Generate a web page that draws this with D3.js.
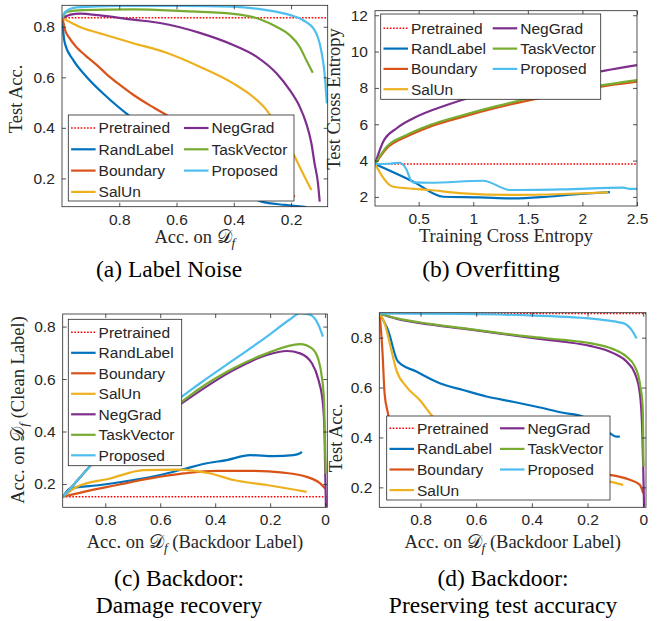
<!DOCTYPE html>
<html>
<head>
<meta charset="utf-8">
<script src="https://cdn.jsdelivr.net/npm/d3@7"></script>
<style>
  body { margin: 0; background: #fff; }
  text { fill: #262626; }
</style>
</head>
<body>
<script>
// ---------- data ----------
const methods = ["RandLabel", "Boundary", "SalUn", "NegGrad", "TaskVector", "Proposed"];
const legendNames = ["Pretrained", "RandLabel", "Boundary", "SalUn", "NegGrad", "TaskVector", "Proposed"];

// (a) Label noise: [acc on Df, test acc]
const aPretrained = 0.836;
const aRandLabel = [[0.998,0.835],[0.995,0.774],[0.99,0.735],[0.961,0.669],[0.92,0.609],[0.844,0.523],[0.769,0.451],[0.66,0.36],[0.55,0.27],[0.45,0.2],[0.37,0.145],[0.303,0.108],[0.22,0.095],[0.146,0.086]];
const aBoundary = [[0.998,0.835],[0.99,0.79],[0.975,0.757],[0.95,0.72],[0.92,0.688],[0.88,0.65],[0.84,0.608],[0.8,0.572],[0.75,0.53],[0.69,0.487],[0.635,0.451],[0.5,0.36],[0.4,0.29],[0.3,0.21],[0.23,0.16],[0.187,0.127]];
const aSalUn = [[0.998,0.835],[0.926,0.794],[0.867,0.774],[0.751,0.735],[0.635,0.697],[0.519,0.642],[0.402,0.576],[0.333,0.523],[0.286,0.471],[0.24,0.39],[0.193,0.299],[0.170,0.246],[0.147,0.194],[0.129,0.154]];
const aNegGrad = [[0.998,0.835],[0.97,0.848],[0.937,0.852],[0.867,0.845],[0.751,0.828],[0.658,0.815],[0.519,0.776],[0.402,0.728],[0.321,0.682],[0.251,0.616],[0.205,0.550],[0.170,0.484],[0.147,0.418],[0.129,0.339],[0.118,0.260],[0.106,0.181],[0.100,0.108]];
const aTaskVector = [[0.998,0.835],[0.984,0.859],[0.926,0.866],[0.751,0.869],[0.577,0.862],[0.402,0.851],[0.309,0.830],[0.251,0.800],[0.205,0.767],[0.170,0.721],[0.147,0.669],[0.124,0.618]];
const aProposed = [[0.998,0.835],[0.990,0.858],[0.949,0.877],[0.809,0.883],[0.577,0.883],[0.402,0.880],[0.286,0.866],[0.205,0.847],[0.159,0.827],[0.118,0.787],[0.095,0.708],[0.083,0.616],[0.075,0.497]];
const aXTicks = [0.8, 0.6, 0.4, 0.2];
const aYTicks = [0.2, 0.4, 0.6, 0.8];

// (b) Overfitting: [training CE, test CE]
const bPretrained = 3.81;
const bRandLabel = [[0.1,3.81],[0.451,2.84],[0.726,2.01],[1.062,1.98],[1.367,1.92],[1.672,2.01],[1.977,2.16],[2.252,2.27]];
const bBoundary = [[0.1,3.81],[0.207,4.67],[0.390,5.32],[0.604,5.87],[0.909,6.42],[1.214,6.91],[1.519,7.33],[1.824,7.70],[2.13,8.03],[2.5,8.34]];
const bSalUn = [[0.1,3.81],[0.268,2.56],[0.604,2.38],[0.909,2.20],[1.367,2.11],[1.824,2.16],[2.236,2.25]];
const bNegGrad = [[0.1,3.81],[0.176,5.05],[0.299,5.78],[0.451,6.33],[0.757,7.06],[1.062,7.61],[1.367,7.98],[1.672,8.34],[1.977,8.71],[2.5,9.26]];
const bTaskVector = [[0.1,3.81],[0.207,4.76],[0.390,5.41],[0.604,5.96],[0.909,6.51],[1.214,7.00],[1.519,7.43],[1.824,7.79],[2.13,8.1],[2.5,8.43]];
const bProposed = [[0.1,3.81],[0.25,3.84],[0.329,3.88],[0.39,3.48],[0.43,2.9],[0.45,2.8],[0.604,2.78],[1.092,2.89],[1.337,2.38],[1.824,2.42],[2.374,2.51],[2.436,2.44],[2.5,2.44]];
const bXTicks = [0.5, 1, 1.5, 2, 2.5];
const bYTicks = [2, 4, 6, 8, 10, 12];

// (c) Backdoor damage recovery: [acc on Df backdoor label, acc on Df clean label]
const cPretrained = 0.151;
const cRandLabel = [[0.954,0.151],[0.927,0.183],[0.818,0.196],[0.697,0.215],[0.6,0.234],[0.503,0.260],[0.430,0.279],[0.358,0.291],[0.273,0.310],[0.188,0.306],[0.115,0.310],[0.091,0.317],[0.085,0.323]];
const cBoundary = [[0.954,0.151],[0.879,0.170],[0.757,0.196],[0.636,0.221],[0.515,0.240],[0.394,0.250],[0.273,0.250],[0.152,0.243],[0.067,0.227],[0.018,0.202],[0.0,0.183]];
const cSalUn = [[0.954,0.151],[0.903,0.189],[0.782,0.221],[0.661,0.253],[0.539,0.255],[0.418,0.240],[0.333,0.215],[0.212,0.196],[0.115,0.179],[0.067,0.170]];
const cNegGrad = [[0.954,0.151],[0.9,0.215],[0.83,0.296],[0.7,0.39],[0.6,0.45],[0.521,0.508],[0.333,0.634],[0.212,0.692],[0.139,0.707],[0.091,0.698],[0.048,0.660],[0.024,0.596],[0.008,0.507],[0.002,0.393],[0.0,0.266],[-0.003,0.113]];
const cTaskVector = [[0.954,0.151],[0.9,0.215],[0.83,0.297],[0.7,0.395],[0.6,0.457],[0.521,0.514],[0.455,0.565],[0.333,0.641],[0.212,0.698],[0.091,0.733],[0.048,0.717],[0.024,0.673],[0.012,0.609],[0.004,0.520],[0.001,0.393],[-0.002,0.240]];
const cProposed = [[0.954,0.151],[0.9,0.215],[0.830,0.298],[0.7,0.41],[0.521,0.533],[0.455,0.584],[0.333,0.673],[0.212,0.762],[0.127,0.828],[0.091,0.851],[0.055,0.845],[0.024,0.806],[0.008,0.762]];
const cXTicks = [0.8, 0.6, 0.4, 0.2, 0];
const cYTicks = [0.2, 0.4, 0.6, 0.8];

// (d) Backdoor preserving test acc: [acc on Df backdoor label, test acc]
const dPretrained = 0.897;
const dRandLabel = [[0.947,0.897],[0.917,0.831],[0.881,0.704],[0.815,0.664],[0.731,0.617],[0.647,0.590],[0.563,0.564],[0.468,0.543],[0.383,0.523],[0.288,0.499],[0.216,0.483],[0.17,0.45],[0.120,0.417],[0.096,0.403],[0.084,0.403]];
const dBoundary = [[0.947,0.897],[0.937,0.751],[0.929,0.577],[0.917,0.497],[0.9,0.4],[0.85,0.33],[0.7,0.29],[0.5,0.275],[0.3,0.265],[0.120,0.250],[0.048,0.230],[0.012,0.210],[0.0,0.176]];
const dSalUn = [[0.947,0.897],[0.929,0.858],[0.905,0.751],[0.887,0.671],[0.851,0.604],[0.803,0.550],[0.761,0.490],[0.65,0.38],[0.5,0.3],[0.3,0.25],[0.120,0.223],[0.072,0.210]];
const dNegGrad = [[0.947,0.897],[0.887,0.876],[0.767,0.853],[0.647,0.836],[0.527,0.818],[0.408,0.800],[0.288,0.784],[0.192,0.767],[0.108,0.738],[0.060,0.704],[0.030,0.657],[0.012,0.577],[0.004,0.443],[0.0,0.283],[-0.003,0.122]];
const dTaskVector = [[0.947,0.897],[0.887,0.878],[0.767,0.855],[0.647,0.838],[0.527,0.820],[0.408,0.804],[0.288,0.791],[0.192,0.778],[0.108,0.754],[0.060,0.724],[0.030,0.684],[0.012,0.617],[0.002,0.523],[-0.001,0.283]];
const dProposed = [[0.947,0.897],[0.647,0.895],[0.408,0.889],[0.168,0.874],[0.072,0.858],[0.042,0.831],[0.024,0.797]];
const dXTicks = [0.8, 0.6, 0.4, 0.2, 0];
const dYTicks = [0.2, 0.4, 0.6, 0.8];

// ---------- styles ----------
const colors = {
  Pretrained: "#ff0000", RandLabel: "#0072bd", Boundary: "#d95319", SalUn: "#edb120",
  NegGrad: "#7e2f8e", TaskVector: "#77ac30", Proposed: "#4dbeee"
};
const sansFont = "'Liberation Sans', Arial, Helvetica, sans-serif";
const serifFont = "'Liberation Serif', 'Times New Roman', serif";

const width = 665, height = 621;
const svg = d3.select("body").append("svg")
  .attr("width", width).attr("height", height);

const dfLabel = ["Acc. on ", "𝒟", "_f"];

const panels = [
  {
    id: "a", pretrained: aPretrained, xTicks: aXTicks, yTicks: aYTicks,
    series: {RandLabel: aRandLabel, Boundary: aBoundary, SalUn: aSalUn, NegGrad: aNegGrad, TaskVector: aTaskVector, Proposed: aProposed},
    xDomain: [1.0, 0.072], yDomain: [0.088, 0.885],
    box: {l: 62, r: 327.7, t: 5.3, b: 206.7},
    xLabel: dfLabel, xLabelY: 243, yLabel: ["Test Acc."], yLabelX: 22, yLabelC: 99,
    legend: {x: 68.3, y: 115, w: 225.7, h: 86, row0: 13, rowH: 21.3, col2: 115.7, rows: 4},
    caption: ["(a) Label Noise"], capX: 169, capY: 277
  },
  {
    id: "b", pretrained: bPretrained, xTicks: bXTicks, yTicks: bYTicks,
    series: {RandLabel: bRandLabel, Boundary: bBoundary, SalUn: bSalUn, NegGrad: bNegGrad, TaskVector: bTaskVector, Proposed: bProposed},
    xDomain: [0.1, 2.5], yDomain: [1.5, 12.25],
    box: {l: 375, r: 637, t: 10.7, b: 206},
    xLabel: ["Training Cross Entropy"], xLabelY: 242, yLabel: ["Test Cross Entropy"], yLabelX: 340, yLabelC: 99,
    legend: {x: 380.7, y: 14, w: 220, h: 85.3, row0: 14.3, rowH: 20.3, col2: 112, rows: 4},
    caption: ["(b) Overfitting"], capX: 491, capY: 277
  },
  {
    id: "c", pretrained: cPretrained, xTicks: cXTicks, yTicks: cYTicks,
    series: {RandLabel: cRandLabel, Boundary: cBoundary, SalUn: cSalUn, NegGrad: cNegGrad, TaskVector: cTaskVector, Proposed: cProposed},
    xDomain: [0.955, -0.008], yDomain: [0.111, 0.848],
    box: {l: 62.7, r: 327.3, t: 314, b: 507.3},
    xLabel: dfLabel.concat([" (Backdoor Label)"]), xLabelY: 548,
    yLabel: dfLabel.concat([" (Clean Label)"]), yLabelX: 24, yLabelC: 410,
    legend: {x: 68.3, y: 319.3, w: 113.4, h: 146.4, row0: 13, rowH: 20.5, col2: null, rows: 7},
    caption: ["(c) Backdoor:", "Damage recovery"], capX: 179, capY: 586
  },
  {
    id: "d", pretrained: dPretrained, xTicks: dXTicks, yTicks: dYTicks,
    series: {RandLabel: dRandLabel, Boundary: dBoundary, SalUn: dSalUn, NegGrad: dNegGrad, TaskVector: dTaskVector, Proposed: dProposed},
    xDomain: [0.948, -0.01], yDomain: [0.12, 0.9],
    box: {l: 379.3, r: 646, t: 312.7, b: 507.3},
    xLabel: dfLabel.concat([" (Backdoor Label)"]), xLabelY: 548, yLabel: ["Test Acc."], yLabelX: 342, yLabelC: 438,
    legend: {x: 386.7, y: 416, w: 223.3, h: 84, row0: 12.3, rowH: 20.6, col2: 113.3, rows: 4},
    caption: ["(d) Backdoor:", "Preserving test accuracy"], capX: 503, capY: 586
  }
];

// write label parts; "_x" means italic subscript
function addParts(textSel, parts) {
  let shifted = false;
  parts.forEach(p => {
    const ts = textSel.append("tspan");
    if (p.startsWith("_")) {
      ts.text(p.slice(1)).attr("font-style", "italic").attr("font-size", "72%").attr("dy", 4);
      shifted = true;
    } else {
      ts.text(p);
      if (shifted) { ts.attr("dy", -4); shifted = false; }
    }
  });
}

panels.forEach(p => {
  const g = svg.append("g");
  const x = d3.scaleLinear().domain(p.xDomain).range([p.box.l, p.box.r]);
  const y = d3.scaleLinear().domain(p.yDomain).range([p.box.b, p.box.t]);

  svg.append("clipPath").attr("id", "clip-" + p.id)
    .append("rect")
    .attr("x", p.box.l).attr("y", p.box.t)
    .attr("width", p.box.r - p.box.l).attr("height", p.box.b - p.box.t);

  const plot = g.append("g").attr("clip-path", `url(#clip-${p.id})`);

  // pretrained reference
  plot.append("line")
    .attr("x1", x(p.xDomain[0])).attr("x2", x(p.xDomain[1]))
    .attr("y1", y(p.pretrained)).attr("y2", y(p.pretrained))
    .attr("stroke", colors.Pretrained).attr("stroke-width", 1.6)
    .attr("stroke-dasharray", "1.6,1.6");

  const line = d3.line().x(d => x(d[0])).y(d => y(d[1])).curve(d3.curveMonotoneX);
  methods.forEach(m => {
    plot.append("path")
      .datum(p.series[m])
      .attr("d", line)
      .attr("fill", "none")
      .attr("stroke", colors[m])
      .attr("stroke-width", 2.2)
      .attr("stroke-linejoin", "round");
  });

  // axes (MATLAB style: inward ticks on all four sides)
  const tickLen = 4;
  const fmt = d => String(d);
  g.append("g")
    .attr("transform", `translate(0,${p.box.b})`)
    .call(d3.axisBottom(x).tickValues(p.xTicks).tickFormat(fmt).tickSizeInner(-tickLen).tickSizeOuter(0).tickPadding(7));
  g.append("g")
    .attr("transform", `translate(0,${p.box.t})`)
    .call(d3.axisTop(x).tickValues(p.xTicks).tickFormat("").tickSizeInner(-tickLen).tickSizeOuter(0));
  g.append("g")
    .attr("transform", `translate(${p.box.l},0)`)
    .call(d3.axisLeft(y).tickValues(p.yTicks).tickFormat(fmt).tickSizeInner(-tickLen).tickSizeOuter(0).tickPadding(7));
  g.append("g")
    .attr("transform", `translate(${p.box.r},0)`)
    .call(d3.axisRight(y).tickValues(p.yTicks).tickFormat("").tickSizeInner(-tickLen).tickSizeOuter(0));

  g.selectAll(".domain").remove();
  g.selectAll(".tick line").attr("stroke", "#262626").attr("stroke-width", 0.8);
  g.selectAll(".tick text").attr("font-family", sansFont).attr("font-size", 15.5).attr("fill", "#262626");

  g.append("rect")
    .attr("x", p.box.l).attr("y", p.box.t)
    .attr("width", p.box.r - p.box.l).attr("height", p.box.b - p.box.t)
    .attr("fill", "none").attr("stroke", "#262626").attr("stroke-width", 0.8);

  // axis labels
  const xl = g.append("text")
    .attr("x", (p.box.l + p.box.r) / 2).attr("y", p.xLabelY)
    .attr("text-anchor", "middle")
    .attr("font-family", serifFont).attr("font-size", 18.5);
  addParts(xl, p.xLabel);

  const yl = g.append("text")
    .attr("transform", `translate(${p.yLabelX},${p.yLabelC}) rotate(-90)`)
    .attr("text-anchor", "middle")
    .attr("font-family", serifFont).attr("font-size", 18.5);
  addParts(yl, p.yLabel);

  // legend
  const L = p.legend;
  const lg = g.append("g").attr("transform", `translate(${L.x},${L.y})`);
  lg.append("rect").attr("width", L.w).attr("height", L.h)
    .attr("fill", "#fff").attr("stroke", "#262626").attr("stroke-width", 0.8);
  legendNames.forEach((name, i) => {
    const col = L.col2 !== null && i >= L.rows ? 1 : 0;
    const row = col ? i - L.rows : i;
    const ox = col ? L.col2 : 2.8;
    const oy = L.row0 + row * L.rowH;
    const seg = lg.append("line")
      .attr("x1", ox).attr("x2", ox + 24.5)
      .attr("y1", oy).attr("y2", oy)
      .attr("stroke", colors[name]);
    if (name === "Pretrained") {
      seg.attr("stroke-width", 1.6).attr("stroke-dasharray", "1.6,1.6");
    } else {
      seg.attr("stroke-width", 2.2);
    }
    lg.append("text")
      .attr("x", ox + 27.5).attr("y", oy).attr("dy", "0.35em")
      .attr("font-family", sansFont).attr("font-size", 15.5)
      .text(name);
  });

  // caption
  p.caption.forEach((c, i) => {
    svg.append("text")
      .attr("x", p.capX).attr("y", p.capY + i * 27)
      .attr("text-anchor", "middle")
      .attr("font-family", serifFont).attr("font-size", 23.5)
      .style("fill", "#000")
      .text(c);
  });
});
</script>
</body>
</html>
